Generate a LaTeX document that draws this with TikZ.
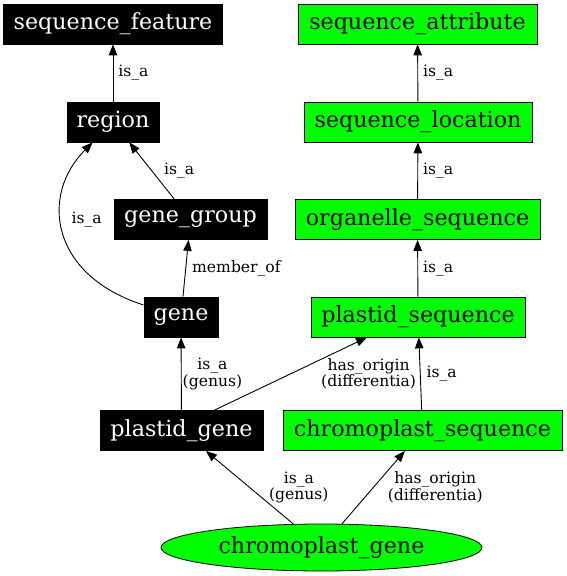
\documentclass[tikz,border=0pt]{standalone}
\usepackage{fontspec}
\setmainfont{DejaVu Serif}
\usepackage{tikz}
\usetikzlibrary{positioning}
\usetikzlibrary{arrows.meta}
\usetikzlibrary{shapes.geometric}
\newcommand{\ndfont}{\fontsize{22.2}{24}\selectfont}
\newcommand{\lbfont}{\fontsize{15.6}{15.5}\selectfont}
\tikzset{%
  myedge/.style={-{Triangle[length=11pt, width=8.5pt]}, line width=0.9pt},
  blknode/.style={rectangle, draw=black, fill=black, text=white, line width=0.8pt,
    minimum height=40pt, inner sep=0pt, font=\ndfont},
  grnnode/.style={rectangle, draw=black, fill=green, line width=0.8pt,
    minimum height=40pt, inner sep=0pt, font=\ndfont},
  mylabel/.style={font=\lbfont, inner sep=1pt, align=center}
}
\begin{document}
\begin{tikzpicture}[x=1pt, y=-1pt]
  \useasboundingbox (0,0) rectangle (566,576);
  % left column
  \node[blknode, minimum width=219pt] (sf) at (113,24) {sequence\_feature};
  \node[blknode, minimum width=92pt] (reg) at (113,122) {region};
  \node[blknode, minimum width=153pt] (gg) at (190.5,219.5) {gene\_group};
  \node[blknode, minimum width=74pt] (gene) at (181,317) {gene};
  \node[blknode, minimum width=163pt] (pg) at (181.5,430.5) {plastid\_gene};
  % right column
  \node[grnnode, minimum width=239pt] (sa) at (417.5,24) {sequence\_attribute};
  \node[grnnode, minimum width=228pt] (sl) at (418,122) {sequence\_location};
  \node[grnnode, minimum width=245pt] (os) at (417.5,219.5) {organelle\_sequence};
  \node[grnnode, minimum width=214pt] (ps) at (418,317) {plastid\_sequence};
  \node[grnnode, minimum width=279pt] (cs) at (422.5,430.5) {chromoplast\_sequence};
  \node[ellipse, draw=black, fill=green, line width=0.8pt, inner sep=0pt,
    minimum width=321pt, minimum height=47pt, font=\ndfont] (cg) at (321.5,547.5) {chromoplast\_gene};

  \draw[myedge] (reg) -- (sf) node[mylabel, midway, right=4pt] {is\_a};
  \draw[myedge] (gg) -- (reg) node[mylabel, midway, right=11pt] {is\_a};
  \draw[myedge] (gene) .. controls (50,275) and (40,195) .. (reg)
    node[mylabel, pos=0.57, right=9pt] {is\_a};
  \draw[myedge] (gene) -- (gg) node[mylabel, midway, right=5pt] {member\_of};
  \draw[myedge] (pg) -- (gene) node[mylabel, midway, right=0pt] {is\_a\\(genus)};
  \draw[myedge] ([xshift=33pt]pg.north) -- ([xshift=-51pt]ps.south)
    node[mylabel, midway, right=29pt] {has\_origin\\(differentia)};

  \draw[myedge] (sl) -- (sa) node[mylabel, midway, right=4pt] {is\_a};
  \draw[myedge] (os) -- (sl) node[mylabel, midway, right=4pt] {is\_a};
  \draw[myedge] (ps) -- (os) node[mylabel, midway, right=4pt] {is\_a};
  \draw[myedge] (cs) -- (ps) node[mylabel, midway, right=5pt] {is\_a};

  \draw[myedge] (cg) -- (pg) node[mylabel, midway, right=18pt] {is\_a\\(genus)};
  \draw[myedge] (cg) -- (cs) node[mylabel, midway, right=13pt] {has\_origin\\(differentia)};
\end{tikzpicture}
\end{document}
